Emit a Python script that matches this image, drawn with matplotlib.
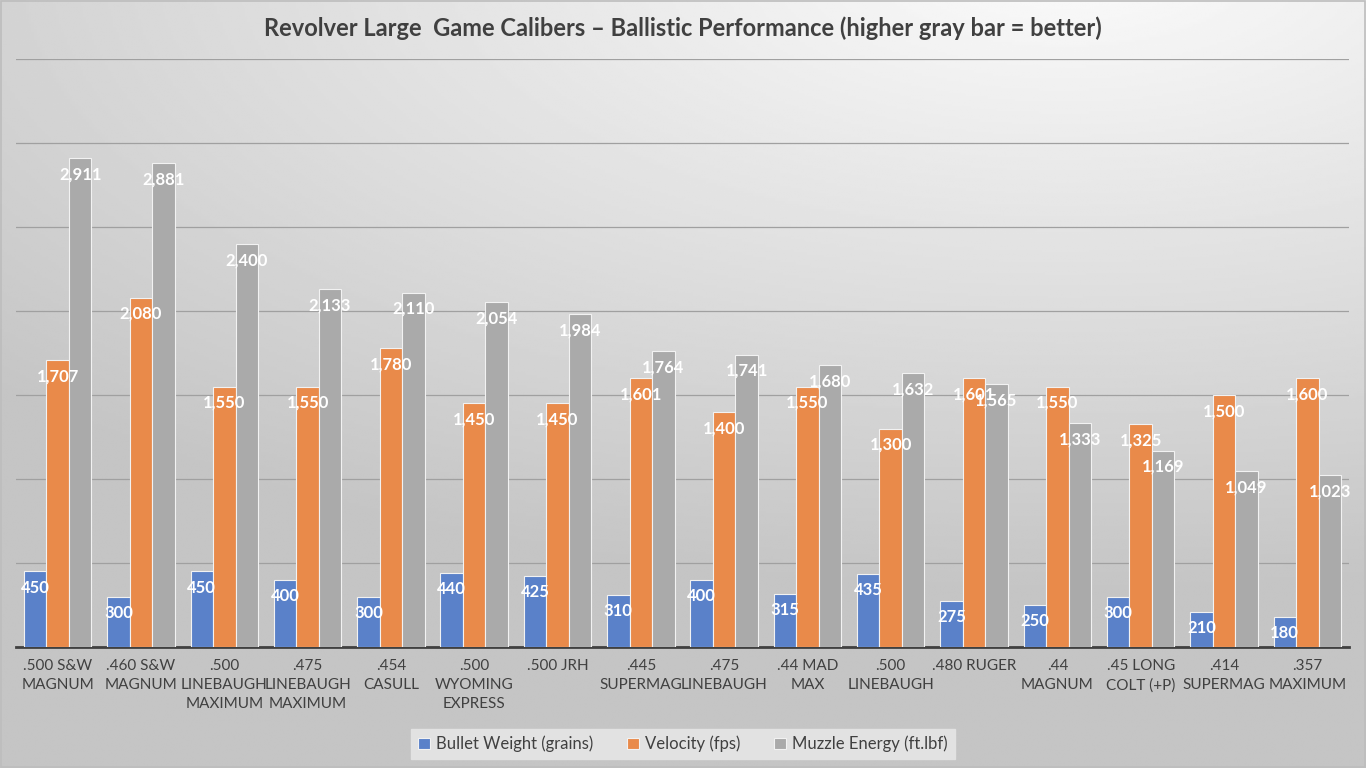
import numpy as np
import matplotlib
matplotlib.use("Agg")
import matplotlib.pyplot as plt
from matplotlib.patches import Rectangle

plt.rcParams["font.family"] = ["Lato", "DejaVu Sans"]

calibers = [".500 S&W\nMAGNUM", ".460 S&W\nMAGNUM", ".500\nLINEBAUGH\nMAXIMUM",
            ".475\nLINEBAUGH\nMAXIMUM", ".454\nCASULL", ".500\nWYOMING\nEXPRESS",
            ".500 JRH", ".445\nSUPERMAG", ".475\nLINEBAUGH", ".44 MAD\nMAX",
            ".500\nLINEBAUGH", ".480 RUGER", ".44\nMAGNUM", ".45 LONG\nCOLT (+P)",
            ".414\nSUPERMAG", ".357\nMAXIMUM"]
bullet_weight = [450, 300, 450, 400, 300, 440, 425, 310, 400, 315, 435, 275, 250, 300, 210, 180]
velocity = [1707, 2080, 1550, 1550, 1780, 1450, 1450, 1601, 1400, 1550, 1300, 1601, 1550, 1325, 1500, 1600]
muzzle_energy = [2911, 2881, 2400, 2133, 2110, 2054, 1984, 1764, 1741, 1680, 1632, 1565, 1333, 1169, 1049, 1023]

series = [("Bullet Weight (grains)", bullet_weight, "#5a81c9"),
          ("Velocity (fps)", velocity, "#e98a4a"),
          ("Muzzle Energy (ft.lbf)", muzzle_energy, "#aaaaaa")]

fig = plt.figure(figsize=(13.66, 7.68), dpi=100)

# fond degrade (clair en haut a droite, plus sombre a gauche et en bas)
bg = fig.add_axes([0, 0, 1, 1], zorder=-10)
yy, xx = np.mgrid[0:1:300j, 0:1:500j]
dist = np.sqrt(((xx - 0.78) * 1.0) ** 2 + ((yy - 1.05) * 1.3) ** 2)
shade = np.clip(0.985 - 0.2 * dist, 0.77, 0.985)
bg.imshow(shade, cmap="gray", vmin=0, vmax=1, origin="lower", aspect="auto",
          extent=[0, 1, 0, 1])
bg.set_axis_off()
bg.add_patch(Rectangle((0.0005, 0.001), 0.999, 0.998, transform=bg.transAxes,
                       fill=False, edgecolor="#bdbdbd", lw=1.2))

ax = fig.add_axes([0.0117, 0.1576, 0.9758, 0.7654])
ax.patch.set_alpha(0)

x = np.arange(len(calibers))
width = 0.27
for i, (name, vals, color) in enumerate(series):
    pos = x + (i - 1) * width
    bars = ax.bar(pos, vals, width, color=color, edgecolor="#f2f2f2", linewidth=0.8,
                  label=name, zorder=3)
    for b, v in zip(bars, vals):
        ax.annotate(f"{v:,}", (b.get_x() + b.get_width() / 2, v), xytext=(0, -6),
                    textcoords="offset points", ha="center", va="top",
                    color="white", fontsize=12, fontweight="bold", zorder=5)

ax.set_xlim(-0.5, len(calibers) - 0.5)
ax.set_ylim(0, 3500)
ax.set_yticks(np.arange(0, 3501, 500))
ax.yaxis.grid(True, color="#a0a0a0", linewidth=0.9, zorder=0)
ax.tick_params(axis="y", left=False, labelleft=False)
ax.set_xticks(x)
ax.set_xticklabels(calibers, fontsize=11, color="#404040", linespacing=1.45)
ax.tick_params(axis="x", length=0, pad=9)
for s in ["top", "right", "left"]:
    ax.spines[s].set_visible(False)
ax.spines["bottom"].set_color("#404040")
ax.spines["bottom"].set_linewidth(2)

fig.text(0.5, 0.963, "Revolver Large  Game Calibers \u2013 Ballistic Performance (higher gray bar = better)",
         ha="center", va="center", fontsize=17, fontweight="bold", color="#404040")

leg = fig.legend(loc="center", bbox_to_anchor=(0.5, 0.031), ncol=3, fontsize=12,
                 frameon=True, fancybox=False, handlelength=0.7, handleheight=0.7,
                 columnspacing=2.0, handletextpad=0.4, borderpad=0.4)
leg.get_frame().set_facecolor("#e2e2e2")
leg.get_frame().set_edgecolor("#e2e2e2")
leg.get_frame().set_alpha(1)
for t in leg.get_texts():
    t.set_color("#404040")

fig.savefig("out.png", dpi=100)
